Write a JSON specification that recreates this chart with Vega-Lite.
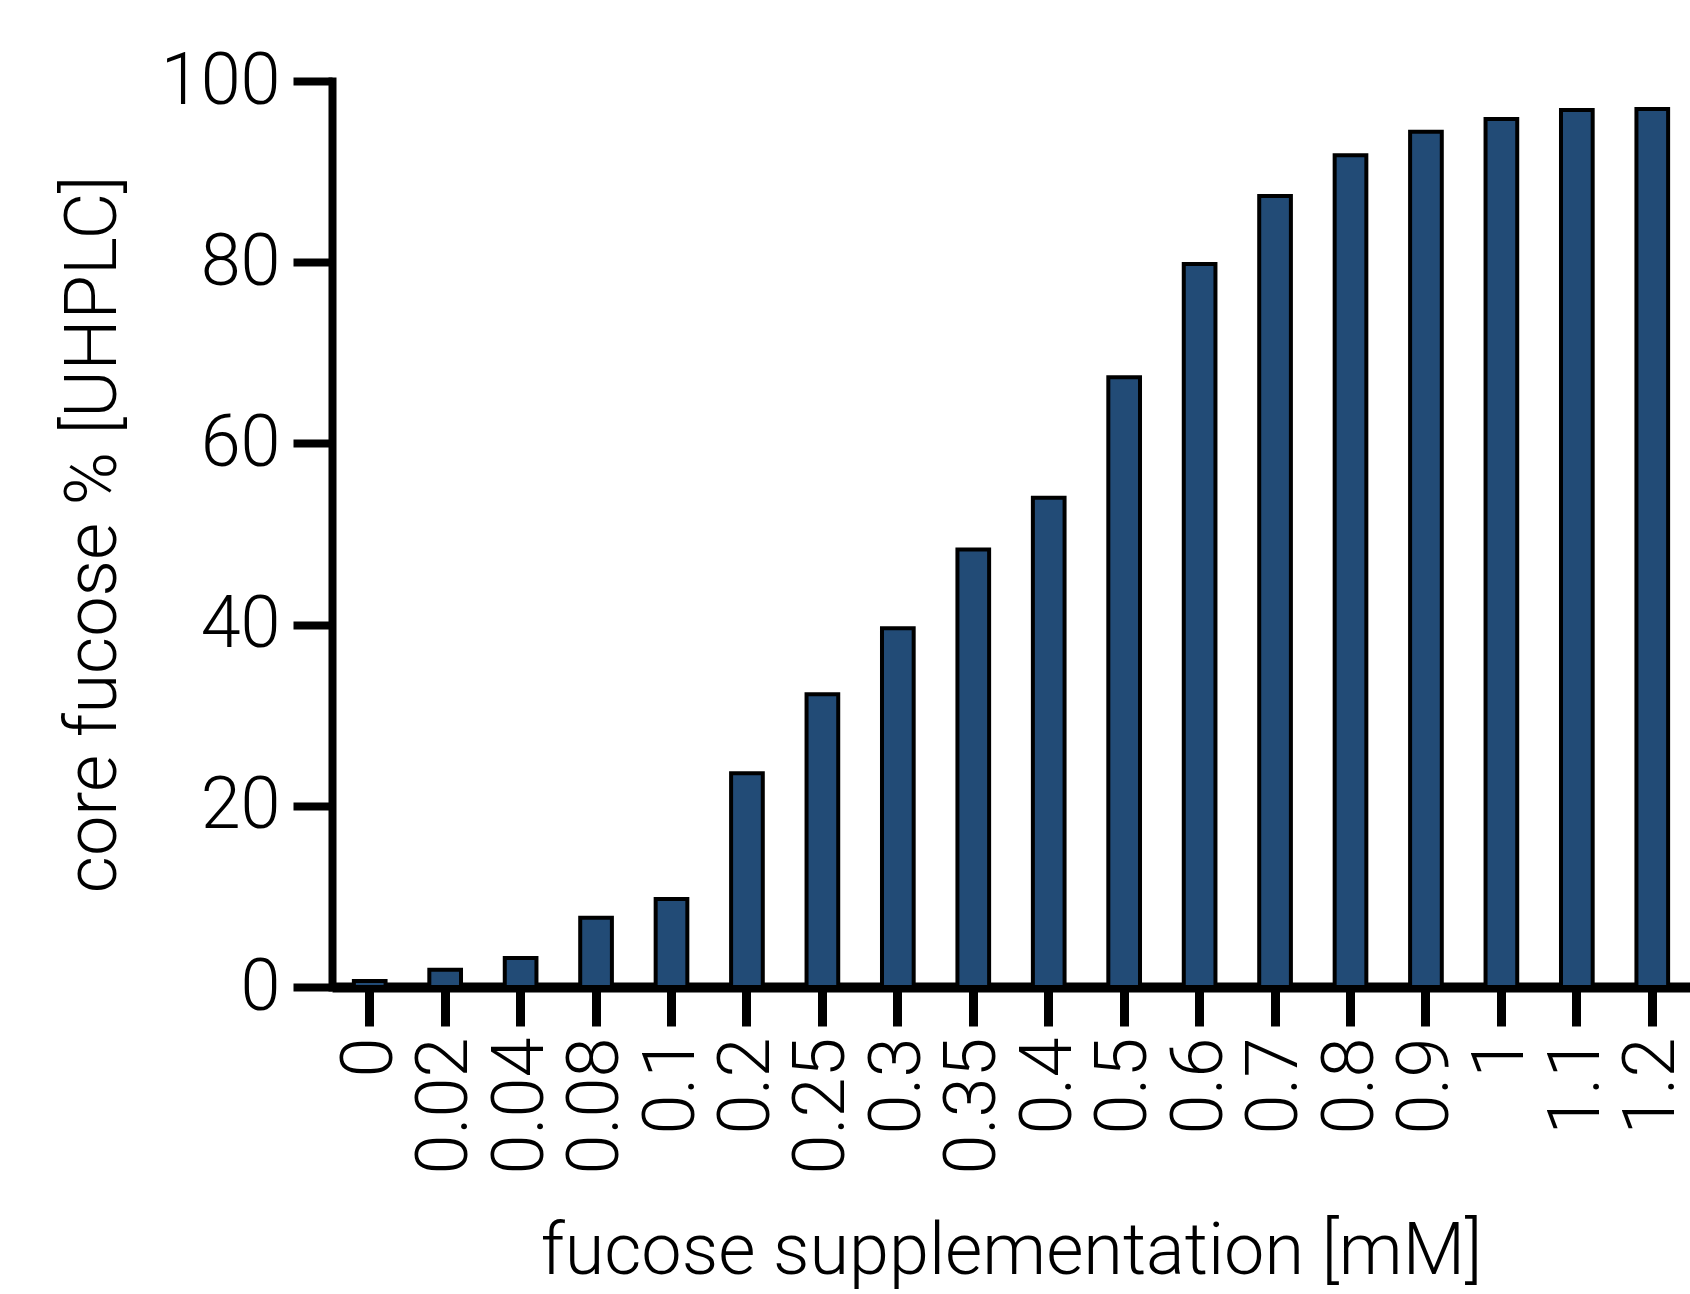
{
  "$schema": "https://vega.github.io/schema/vega-lite/v6.json",
  "autosize": "none",
  "width": 1358,
  "height": 906,
  "padding": {"left": 332, "top": 81, "right": 0, "bottom": 307},
  "background": "white",
  "config": {
    "view": {"stroke": null},
    "font": "Roboto",
    "axis": {
      "labelFont": "Roboto",
      "titleFont": "Roboto",
      "labelFontWeight": 300,
      "titleFontWeight": 300,
      "labelColor": "black",
      "titleColor": "black",
      "domainColor": "black",
      "tickColor": "black",
      "grid": false,
      "zindex": 1
    }
  },
  "data": {
    "values": [
      {"conc": "0", "fucose": 0.66},
      {"conc": "0.02", "fucose": 1.9},
      {"conc": "0.04", "fucose": 3.2},
      {"conc": "0.08", "fucose": 7.65},
      {"conc": "0.1", "fucose": 9.7},
      {"conc": "0.2", "fucose": 23.6},
      {"conc": "0.25", "fucose": 32.3},
      {"conc": "0.3", "fucose": 39.6},
      {"conc": "0.35", "fucose": 48.3},
      {"conc": "0.4", "fucose": 54.0},
      {"conc": "0.5", "fucose": 67.3},
      {"conc": "0.6", "fucose": 79.8},
      {"conc": "0.7", "fucose": 87.3},
      {"conc": "0.8", "fucose": 91.8},
      {"conc": "0.9", "fucose": 94.4},
      {"conc": "1", "fucose": 95.8},
      {"conc": "1.1", "fucose": 96.8},
      {"conc": "1.2", "fucose": 96.9}
    ]
  },
  "mark": {"type": "bar", "fill": "#224b76", "stroke": "black", "strokeWidth": 4},
  "encoding": {
    "x": {
      "field": "conc",
      "type": "nominal",
      "sort": null,
      "scale": {"paddingInner": 0.58, "paddingOuter": 0.29},
      "axis": {
        "title": "fucose supplementation [mM]",
        "titleFontSize": 72,
        "titlePadding": 42,
        "labelFontSize": 72,
        "labelAngle": -90,
        "labelAlign": "right",
        "labelBaseline": "middle",
        "labelPadding": 11,
        "labelBound": false,
        "tickSize": 39,
        "tickWidth": 9,
        "domainWidth": 10,
        "domainCap": "butt"
      }
    },
    "y": {
      "field": "fucose",
      "type": "quantitative",
      "scale": {"domain": [0, 100], "nice": false},
      "axis": {
        "title": "core fucose % [UHPLC]",
        "titleFontSize": 72,
        "titlePadding": 30,
        "labelFontSize": 72,
        "labelPadding": 13,
        "values": [0, 20, 40, 60, 80, 100],
        "tickSize": 39,
        "tickWidth": 8,
        "domainWidth": 8,
        "domainCap": "square"
      }
    }
  }
}
